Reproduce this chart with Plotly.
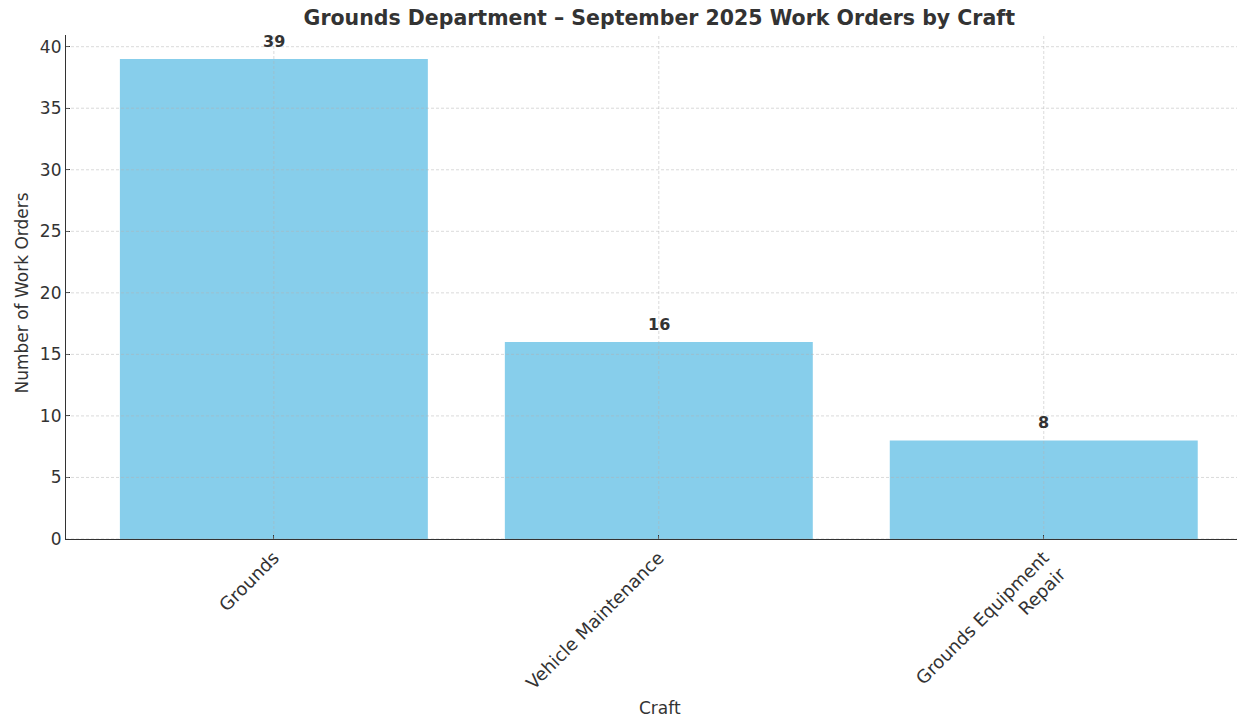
import plotly.graph_objects as go

# Work orders per craft, September 2025
crafts = ["Grounds", "Vehicle Maintenance", "Grounds Equipment<br>Repair"]
work_orders = [39, 16, 8]
y_ticks = [0, 5, 10, 15, 20, 25, 30, 35, 40]

text_color = "#333333"
grid_color = "rgba(176,176,176,0.6)"
font_family = "DejaVu Sans"

positions = list(range(len(crafts)))

fig = go.Figure()
fig.add_trace(go.Bar(
    x=positions,
    y=work_orders,
    width=0.8,
    marker=dict(color="#87CEEB", line=dict(width=0)),
    hoverinfo="x+y",
))

# value labels above each bar
for pos, val in zip(positions, work_orders):
    fig.add_annotation(
        x=pos, y=val + 0.5, text=f"<b>{val}</b>",
        showarrow=False, yanchor="bottom", xanchor="center",
        font=dict(family=font_family, size=16, color=text_color),
    )

# dashed grid drawn over the bars
for t in y_ticks:
    fig.add_shape(type="line", xref="x domain", yref="y",
                  x0=0, x1=1, y0=t, y1=t, layer="above",
                  line=dict(color=grid_color, width=0.8, dash="3px,2px"))
for pos in positions:
    fig.add_shape(type="line", xref="x", yref="y domain",
                  x0=pos, x1=pos, y0=0, y1=1, layer="above",
                  line=dict(color=grid_color, width=0.8, dash="3px,2px"))

# axis titles
fig.add_annotation(
    text="Craft", xref="paper", yref="paper", x=0.507, y=-0.335,
    xanchor="center", yanchor="middle", showarrow=False,
    font=dict(family=font_family, size=17, color=text_color),
)
fig.add_annotation(
    text="Number of Work Orders", xref="paper", yref="paper",
    x=-0.0376, y=0.489, textangle=-90,
    xanchor="center", yanchor="middle", showarrow=False,
    font=dict(family=font_family, size=17, color=text_color),
)

fig.update_layout(
    width=1237, height=719,
    margin=dict(l=66, r=0, t=35, b=180),
    paper_bgcolor="white", plot_bgcolor="white",
    showlegend=False,
    font=dict(family=font_family, color=text_color),
    title=dict(
        text="<b>Grounds Department – September 2025 Work Orders by Craft</b>",
        x=0.533, xanchor="center", y=0.975, yanchor="middle",
        font=dict(family=font_family, size=20.5, color=text_color),
    ),
    xaxis=dict(
        range=[-0.54, 2.502],
        automargin=False,
        tickmode="array", tickvals=positions, ticktext=crafts,
        tickangle=-45,
        tickfont=dict(family=font_family, size=18, color=text_color),
        ticks="inside", ticklen=4, tickcolor=text_color,
        showline=True, linecolor=text_color, linewidth=1.2,
        showgrid=False, zeroline=False,
    ),
    yaxis=dict(
        range=[0, 40.95],
        automargin=False,
        tickmode="array", tickvals=y_ticks,
        tickfont=dict(family=font_family, size=17, color=text_color),
        ticks="inside", ticklen=4, tickcolor=text_color,
        showline=True, linecolor=text_color, linewidth=1.2,
        showgrid=False, zeroline=False,
    ),
)

fig.write_html("out.html")
